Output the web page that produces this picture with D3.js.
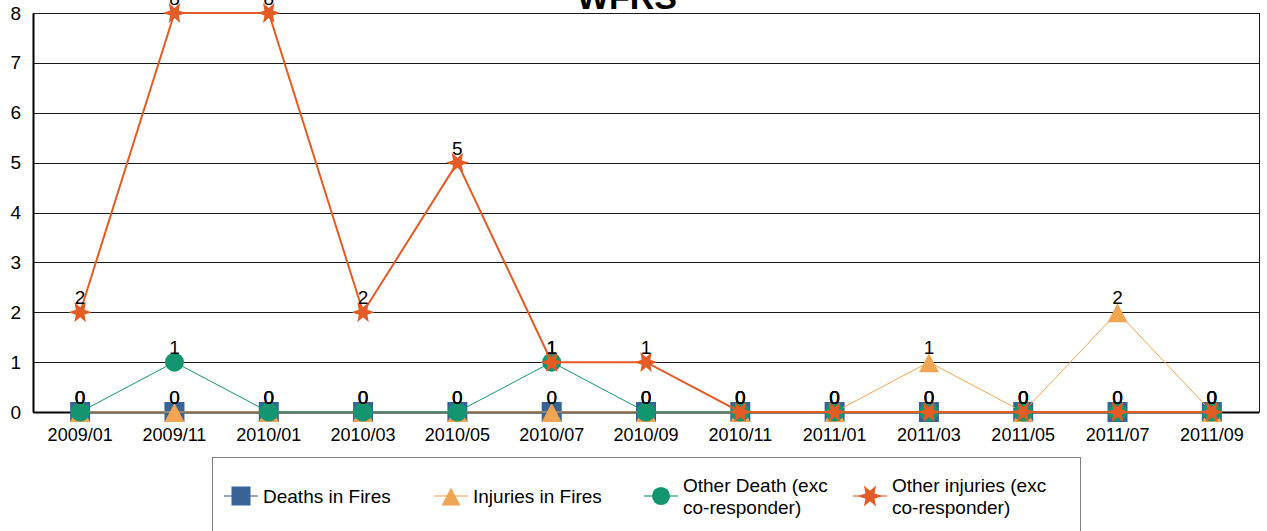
<!DOCTYPE html>
<html><head><meta charset="utf-8">
<script src="https://cdn.jsdelivr.net/npm/d3@7"></script>
<style>body{margin:0;background:#fff}svg{display:block;font-family:"Liberation Sans",Arial,sans-serif}</style>
</head><body><svg id="c" width="1267" height="531"></svg>
<script>
const categories = ["2009/01","2009/11","2010/01","2010/03","2010/05","2010/07","2010/09","2010/11","2011/01","2011/03","2011/05","2011/07","2011/09"];
const deathsInFires   = [0,0,0,0,0,0,0,0,0,0,0,0,0];
const injuriesInFires = [0,0,0,0,0,0,0,0,0,1,0,2,0];
const otherDeath      = [0,1,0,0,0,1,0,0,0,0,0,0,0];
const otherInjuries   = [2,8,8,2,5,1,1,0,0,0,0,0,0];
const yTicks = [0,1,2,3,4,5,6,7,8];
const seriesNames = ["Deaths in Fires","Injuries in Fires","Other Death (exc co-responder)","Other injuries (exc co-responder)"];
const title = "WFRS";

const series = [
  {name: seriesNames[0], values: deathsInFires,   color: "#386396", marker: "square",   lw: 1},
  {name: seriesNames[1], values: injuriesInFires, color: "#f0a552", marker: "triangle", lw: 1},
  {name: seriesNames[2], values: otherDeath,      color: "#139670", marker: "circle",   lw: 1},
  {name: seriesNames[3], values: otherInjuries,   color: "#e35b25", marker: "star",     lw: 2}
];

const svg = d3.select("#c");
const L = 33, R = 1259, T = 13, B = 412;
const x = d3.scaleBand().domain(categories).range([L, R]);
const cx = c => x(c) + x.bandwidth() / 2;
const y = d3.scaleLinear().domain([0, 8]).range([B, T]);

// gridlines
svg.append("g").selectAll("line").data(yTicks).join("line")
  .attr("x1", L).attr("x2", R)
  .attr("y1", d => Math.round(y(d)) + 0.5).attr("y2", d => Math.round(y(d)) + 0.5)
  .attr("stroke", "#1a1a1a").attr("stroke-width", 1);
// right border
svg.append("line").attr("x1", R + 0.5).attr("x2", R + 0.5).attr("y1", T).attr("y2", B)
  .attr("stroke", "#1a1a1a");

// axes
const yAxis = svg.append("g").attr("transform", `translate(${L},0)`)
  .call(d3.axisLeft(y).tickValues(yTicks).tickSize(0).tickPadding(12).tickFormat(d3.format("d")));
yAxis.select(".domain").attr("stroke", "#000").attr("stroke-width", 2);
yAxis.selectAll("text").attr("font-size", 19).attr("fill", "#000").attr("font-family", "Liberation Sans, Arial, sans-serif");

const xAxis = svg.append("g").attr("transform", `translate(0,${B})`)
  .call(d3.axisBottom(x).tickSize(0).tickPadding(16));
xAxis.select(".domain").attr("stroke", "#000").attr("stroke-width", 2);
xAxis.selectAll("text").attr("font-size", 18).attr("fill", "#000").attr("font-family", "Liberation Sans, Arial, sans-serif");

// marker generators
function starPath(ro, ri) {
  const pts = [];
  for (let i = 0; i < 12; i++) {
    const a = i * Math.PI / 6;
    const r = i % 2 === 0 ? ro : ri;
    pts.push([r * Math.cos(a), r * Math.sin(a)]);
  }
  return "M" + pts.map(p => p.join(",")).join("L") + "Z";
}
function drawMarker(g, type, color, px, py, scale) {
  const s = scale || 1;
  if (type === "square") {
    g.append("rect").attr("x", px - 10 * s).attr("y", py - 10 * s).attr("width", 20 * s).attr("height", 20 * s).attr("fill", color);
  } else if (type === "triangle") {
    g.append("path").attr("d", `M${px},${py - 9 * s}L${px + 10 * s},${py + 10 * s}L${px - 10 * s},${py + 10 * s}Z`).attr("fill", color);
  } else if (type === "circle") {
    g.append("circle").attr("cx", px).attr("cy", py).attr("r", 9.5 * s).attr("fill", color);
  } else {
    g.append("path").attr("d", starPath(11.5 * s, 5 * s)).attr("transform", `translate(${px},${py})`).attr("fill", color);
  }
}

const line = d3.line().x((d, i) => cx(categories[i])).y(d => y(d));
series.forEach(s => {
  const g = svg.append("g");
  g.append("path").attr("d", line(s.values)).attr("fill", "none")
    .attr("stroke", s.color).attr("stroke-width", s.lw);
  s.values.forEach((v, i) => drawMarker(g, s.marker, s.color, cx(categories[i]), y(v)));
});

// data labels
series.forEach(s => {
  svg.append("g").selectAll("text").data(s.values).join("text")
    .attr("x", (d, i) => cx(categories[i])).attr("y", d => y(d) - 8)
    .attr("text-anchor", "middle").attr("font-size", 19).attr("fill", "#000")
    .text(d => d);
});

// title
svg.append("text").attr("x", 627).attr("y", 9).attr("text-anchor", "middle")
  .attr("font-size", 34).attr("font-weight", "bold").attr("fill", "#000").text(title);

// legend
svg.append("rect").attr("x", 212.5).attr("y", 457.5).attr("width", 868).attr("height", 100)
  .attr("fill", "#fff").attr("stroke", "#7f7f7f").attr("stroke-width", 1);
const legX = [224, 434, 644, 853];
series.forEach((s, i) => {
  const g = svg.append("g");
  const x0 = legX[i], yc = 496;
  g.append("line").attr("x1", x0).attr("x2", x0 + 34).attr("y1", yc).attr("y2", yc)
    .attr("stroke", s.color).attr("stroke-width", 2).attr("stroke-opacity", 0.55);
  drawMarker(g, s.marker, s.color, x0 + 17, yc, i === 3 ? 1.05 : 0.95);
  const t = g.append("text").attr("x", x0 + 39).attr("font-size", 19).attr("fill", "#000");
  if (s.name.length > 20) {
    const idx = s.name.indexOf("co-responder");
    t.append("tspan").attr("x", x0 + 39).attr("y", 492).text(s.name.slice(0, idx).trim());
    t.append("tspan").attr("x", x0 + 39).attr("y", 514).text(s.name.slice(idx));
  } else {
    t.attr("y", 503).text(s.name);
  }
});
</script></body></html>
